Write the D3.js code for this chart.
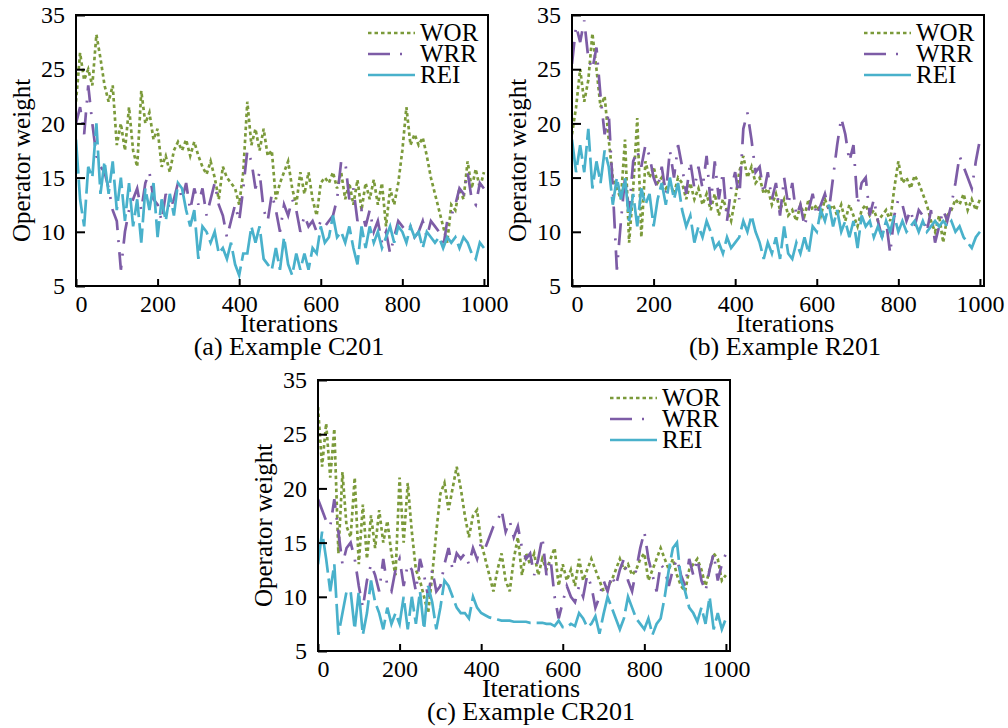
<!DOCTYPE html>
<html>
<head>
<meta charset="utf-8">
<script src="https://cdn.jsdelivr.net/npm/d3@7"></script>
<style>
body { margin: 0; background: #fff; }
</style>
</head>
<body>
<div id="chart"></div>
<script>
// x grid: one reading every 10 iterations
var iterations = d3.range(0, 1001, 10);
var xTicks = [0, 200, 400, 600, 800, 1000];
var yTicks = [5, 10, 15, 20, 25, 30];
var yTickLabels = ["5", "10", "15", "20", "25", "35"]; // top label reads 35 in the figure
var seriesNames = ["WOR", "WRR", "REI"];
var captions = ["(a) Example C201", "(b) Example R201", "(c) Example CR201"];

// (a) C201
var c201WOR = [22, 26.5, 24, 25, 23.5, 28.2, 26, 23.5, 22, 23.5,
  18, 20, 17.5, 21.5, 17.5, 16, 23, 20, 21, 18.5,
  19.5, 16, 17, 15.5, 17.5, 18.3, 17.5, 18.5, 17, 18.3,
  17, 16, 15.3, 16.5, 15, 13, 16, 15, 14.5, 14,
  12.5, 15.5, 22, 18, 19.5, 17.5, 19.5, 17, 17.5, 13,
  14.5, 15.5, 16.5, 14, 12.5, 15.5, 13.5, 15.5, 13, 11.5,
  14.5, 15, 14.5, 15.5, 14, 15.5, 13, 14.5, 12.5, 14.8,
  12, 14.5, 13, 14.8, 12.5, 14.5, 10.5, 14, 12.5, 14.5,
  17.5, 21.5, 18, 19, 18, 18.7, 17, 15, 13.5, 12,
  10.5, 9, 12.5, 12, 14, 13, 16.5, 14, 15.8, 14,
  15.5];
var c201WRR = [20, 21.5, 19, 23.5, 20, 17, 16, 15.5, 14, 12,
  11, 6.5, 10, 12, 13, 14, 12, 14.5, 15.5, 13,
  12.5, 11, 13.5, 12, 13, 14.5, 13, 14.5, 12, 14,
  12.5, 14, 11.5, 13, 14.5, 12.5, 11.5, 9.5, 11, 12.5,
  11, 14, 17.5, 16.5, 14, 15.5, 12, 11, 13.5, 12,
  10, 12.5, 11.5, 13, 12, 10, 11.5, 10.5, 11, 10,
  11, 10.5, 11, 11.5, 13, 16.5, 16.5, 13, 14, 11,
  12, 10.5, 12, 10, 11, 9, 10, 8, 9.5, 11,
  10.5, 10, 10.5, 9.5, 10, 11, 9.5, 11, 10.5, 10,
  8.5, 11, 11.5, 12.5, 14, 13.5, 15.5, 13, 12.5, 14.5,
  14];
var c201REI = [18.5, 13, 10.5, 16, 15, 20, 13.5, 16.5, 13.5, 16.5,
  12, 15, 11, 14.5, 10.5, 13, 9, 14, 12, 14.5,
  9.5, 13, 11, 13.5, 11.5, 14.5, 14, 12, 10.5, 12,
  7.5, 10.5, 10, 9, 10, 8, 8.5, 7.5, 9, 7,
  6, 8, 8, 10.5, 9, 10.5, 7.5, 7, 6.5, 8.5,
  6.5, 9.5, 7, 6, 8, 6.5, 8, 6.5, 8.5, 8,
  10.5, 9, 9.5, 11.5, 9.5, 10, 9, 10.5, 8.5, 7,
  10.5, 8.5, 10.5, 9, 10, 8.5, 9.5, 10.5, 9, 10.5,
  10, 9, 10.5, 9.5, 10, 8.5, 10, 9.5, 9, 9.5,
  8.5, 9.5, 9, 9.5, 8.5, 9.5, 9, 8, 7.5, 9,
  8.5];

// (b) R201
var r201WOR = [19, 21.5, 25, 22, 24, 28.3, 25, 21.5, 22.5, 18.5,
  15, 14, 13, 18.5, 9, 14, 20.5, 9.5, 16.5, 15,
  16, 14.5, 15, 14, 14.5, 13.5, 15, 14.5, 13, 14.5,
  13, 14, 12.5, 13.5, 12, 13.5, 11.5, 13, 12, 11,
  13, 15.5, 17, 15, 16, 14.5, 15, 13.5, 14, 12.5,
  13.5, 12, 13, 11.5, 12, 11, 12.5, 11.5, 13, 12,
  12.5, 11.5, 13, 12, 12.5, 11.5, 12.5, 11, 12.5, 11.5,
  10.5, 12, 12.5, 11.5, 12, 11, 11.5, 12, 11, 14,
  16.5, 14.5, 15, 14, 15.2, 14.5, 13.5, 12.5, 11, 10,
  11.5, 9, 11.5, 12, 13, 12.5, 13.5, 12, 13, 12,
  13];
var r201WRR = [25.5, 29, 27.5, 29.5, 26, 25, 27, 22.5, 19, 21,
  14, 6.5, 11, 15, 12, 16.5, 17.5, 16, 18, 17,
  15, 14, 16, 13.5, 17.5, 15, 18, 16, 13.5, 16.5,
  14, 16, 14, 17, 12.5, 16.5, 13, 15.5, 11, 14,
  15.5, 13, 19.5, 21, 18.5, 15.5, 16, 13.5, 15.5, 13,
  14.5, 11.5, 15, 12.5, 14.5, 11.5, 12.5, 10.5, 12, 13.5,
  11.5, 12.5, 13.5, 12, 15, 18, 20.5, 19, 16.5, 18,
  12.5, 14.5, 15, 11.5, 13, 11, 9.5, 11, 8, 11.5,
  13, 12.5, 11, 12, 10.5, 12, 11.5, 10, 12, 9,
  10.5, 12, 11, 12.5, 14.5, 17, 16, 15, 14, 16.5,
  18.5];
var r201REI = [18.5, 15.5, 18, 15.5, 19.5, 14, 16.5, 14.5, 17.5, 16,
  12.5, 15, 13, 15, 11, 13.5, 10.5, 14, 12.5, 13.5,
  10.5, 13, 14.5, 12.5, 15, 13, 14.5, 12, 10.5, 11.5,
  9, 10.5, 9.5, 11, 10, 8.5, 9, 8, 9.5, 8.5,
  9, 9.5, 11, 10, 11.5, 10, 9, 7.5, 9, 8,
  9.5, 7.5, 10.5, 8, 7.5, 9, 8, 9.5, 8, 10.5,
  10, 12, 11, 12.5, 10.5, 12, 10, 11, 9.5, 11,
  8.5, 11.5, 10.5, 11, 9.5, 10.5, 9.5, 11, 10, 11.5,
  10, 11, 10, 10.5, 11, 10, 11, 10, 10.5, 11,
  10.5, 11, 10.5, 11, 10, 10.5, 9.5, 9, 8.5, 9.5,
  10];

// (c) CR201
var cr201WOR = [27.5, 22, 26, 21, 25.5, 14, 21.5, 16.5, 15.5, 21,
  13, 18.5, 13.5, 17.5, 14.5, 18, 15, 17, 14, 12,
  21, 15, 20.5, 16, 12.5, 11.5, 10, 8.5, 12, 16,
  19.5, 20.5, 18, 20, 22, 20, 17.5, 15.5, 17.5, 18,
  15, 13.5, 12, 10.5, 12.5, 14, 11.5, 10.5, 13.5, 15.5,
  12, 14, 13, 14, 12, 13.5, 12.5, 13.5, 14.5, 11,
  13, 11.5, 12.5, 11, 13.5, 11.5, 12.5, 13.5, 12.5, 11.5,
  10.5, 11, 11.5, 12.5, 13.5, 12.5, 13, 12, 12.5, 13.5,
  14, 11.5, 12.5, 13.5, 14.5, 13.5, 12.5, 13.5, 12, 11,
  10.5, 12.5, 13, 13.5, 12.5, 11, 12.5, 14, 13.5, 11.5,
  12];
var cr201WRR = [19, 18, 17, 16.5, 19, 16, 13, 14.5, 15, 13.5,
  11, 9, 11.5, 13, 12, 10.5, 13.5, 11, 10.5, 12.5,
  13.5, 11, 13, 12.5, 10.5, 13.5, 12, 10, 12.5, 10.5,
  11, 13, 14.5, 12.5, 14, 13.5, 14, 13, 14.5, 13.5,
  15, 14.5, 15.5, 16.5, 17, 18, 16, 17, 15.5, 16.5,
  14.5, 13.5, 14, 12, 13.5, 15.5, 12, 13.5, 10, 8,
  9.5, 11, 10, 9.5, 11, 10, 12, 11, 9, 10,
  11.5, 10.5, 12, 11, 12.5, 13.5, 11.5, 10.5, 12.5, 14.5,
  16, 13.5, 12, 10.5, 13, 12.5, 11, 12.5, 13.5, 12,
  11, 13.5, 12, 13.5, 11.5, 10.5, 12.5, 14, 11.5, 13,
  14];
var cr201REI = [13, 16, 13.5, 10.5, 13, 6.5, 8.5, 10.5, 10.5, 7,
  10.5, 6.5, 8.5, 11.5, 9.5, 8.5, 7, 9, 7.5, 8.5,
  7.5, 10, 7, 10, 7.5, 10.5, 7, 11, 9.5, 7,
  9, 11.5, 11, 10, 9, 8.5, 8.5, 8, 10, 9,
  8.5, 8.3, 8.1, 8, 7.9, 7.8, 7.8, 7.8, 7.7, 7.7,
  7.7, 7.7, 7.6, 7.6, 7.6, 7.6, 7.5, 7.5, 7.3, 7.8,
  7.2, 7.2, 7.5, 7.3, 8.5, 8, 7.2, 7.5, 8.2, 6.6,
  8.4, 10, 9, 8, 7, 8, 10, 9, 8, 7.5,
  7, 8, 6.5, 7.5, 8, 10, 12.5, 14.5, 15, 11.5,
  10.5, 9, 8.5, 7.7, 9, 7.5, 10, 7, 8.5, 7,
  8];

var colors = { WOR: "#7b9a3a", WRR: "#7d5ca6", REI: "#49b1cb" };
var dashes = { WOR: "3.5,3", WRR: "22,10,2,10", REI: "34,6" };
var serif = "Liberation Serif";

var width = 1008, height = 728;
var plotW = 412, plotH = 271;

var panels = [
  { left: 76, top: 15, caption: captions[0], data: [c201WOR, c201WRR, c201REI] },
  { left: 572, top: 15, caption: captions[1], data: [r201WOR, r201WRR, r201REI] },
  { left: 318, top: 380, caption: captions[2], data: [cr201WOR, cr201WRR, cr201REI] }
];

var svg = d3.select("#chart").append("svg")
  .attr("width", width)
  .attr("height", height)
  .attr("font-family", serif);

var x = d3.scaleLinear().domain([0, 1010]).range([0, plotW]);
var y = d3.scaleLinear().domain([5, 30]).range([plotH, 0]);

var line = d3.line()
  .x(function (d) { return x(d[0]); })
  .y(function (d) { return y(d[1]); });

panels.forEach(function (p, pi) {
  var g = svg.append("g")
    .attr("transform", "translate(" + p.left + "," + p.top + ")");

  g.append("clipPath").attr("id", "clip" + pi)
    .append("rect").attr("width", plotW).attr("height", plotH);

  // series
  var lines = g.append("g").attr("clip-path", "url(#clip" + pi + ")");
  seriesNames.forEach(function (name, si) {
    var pts = iterations.map(function (it, i) { return [it, p.data[si][i]]; });
    lines.append("path")
      .datum(pts)
      .attr("fill", "none")
      .attr("stroke", colors[name])
      .attr("stroke-width", 2.7)
      .attr("stroke-dasharray", dashes[name])
      .attr("d", line);
  });

  // axes, ticks pointing inward
  var ax = g.append("g")
    .attr("transform", "translate(0," + plotH + ")")
    .call(d3.axisBottom(x).tickValues(xTicks).tickSize(-7).tickPadding(9).tickFormat(d3.format("d")));
  var ay = g.append("g")
    .call(d3.axisLeft(y).tickValues(yTicks).tickSize(-9).tickPadding(11)
      .tickFormat(function (d, i) { return yTickLabels[i]; }));
  [ax, ay].forEach(function (a) {
    a.attr("font-family", serif).attr("font-size", 24);
    a.select(".domain").remove();
    a.selectAll("line").attr("stroke", "#000").attr("stroke-width", 2);
    a.selectAll("text").attr("font-family", serif).attr("font-size", 24).attr("fill", "#000");
  });
  ax.selectAll(".tick text").filter(function (d) { return d === 0; })
    .attr("text-anchor", "start").attr("dx", "-1");

  // frame
  g.append("rect")
    .attr("width", plotW).attr("height", plotH)
    .attr("fill", "none").attr("stroke", "#000").attr("stroke-width", 2);

  // legend
  var leg = g.append("g").attr("transform", "translate(" + (plotW - 120) + ",0)");
  seriesNames.forEach(function (name, si) {
    var ly = 18 + si * 21;
    leg.append("line")
      .attr("x1", 0).attr("x2", name === "WRR" ? 36 : 47)
      .attr("y1", ly).attr("y2", ly)
      .attr("stroke", colors[name]).attr("stroke-width", 2.7)
      .attr("stroke-dasharray", name === "REI" ? null : dashes[name]);
    leg.append("text")
      .attr("x", 52).attr("y", ly + 8)
      .attr("font-family", serif).attr("font-size", 25)
      .text(name);
  });

  // axis titles and caption
  g.append("text")
    .attr("transform", "translate(-46," + (plotH / 2 + 10) + ") rotate(-90)")
    .attr("text-anchor", "middle")
    .attr("font-family", serif).attr("font-size", 25)
    .text("Operator weight");
  g.append("text")
    .attr("x", plotW / 2 + 7).attr("y", plotH + 46)
    .attr("text-anchor", "middle")
    .attr("font-family", serif).attr("font-size", 26)
    .text("Iterations");
  g.append("text")
    .attr("x", plotW / 2 + 7).attr("y", plotH + 69)
    .attr("text-anchor", "middle")
    .attr("font-family", serif).attr("font-size", 26)
    .text(p.caption);
});
</script>
</body>
</html>
